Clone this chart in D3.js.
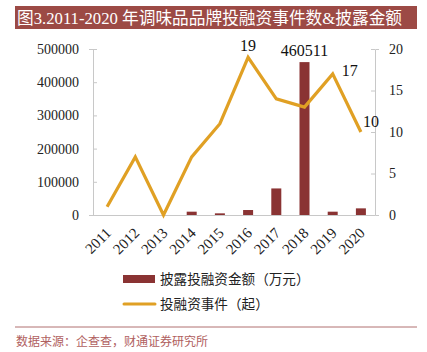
<!DOCTYPE html>
<html>
<meta charset="utf-8">
<head>
<script src="https://d3js.org/d3.v7.min.js"></script>
<style>
  body { margin: 0; background: #fff; }
  text { font-family: "Liberation Serif", "Noto Sans CJK SC", serif; }
</style>
</head>
<body>
<script>
var years = ["2011","2012","2013","2014","2015","2016","2017","2018","2019","2020"];
var amounts = [0, 0, 0, 10000, 5000, 15000, 80000, 460511, 10000, 20000];
var events = [1, 7, 0, 7, 11, 19, 14, 13, 17, 10];
var leftTicks = [0, 100000, 200000, 300000, 400000, 500000];
var rightTicks = [0, 5, 10, 15, 20];

var W = 427, H = 352;
var svg = d3.select("body").append("svg").attr("width", W).attr("height", H);

// title bar
svg.append("rect").attr("x", 15).attr("y", 6).attr("width", 402).attr("height", 23).attr("fill", "#9c4a45");
svg.append("text").attr("x", 17).attr("y", 24).attr("fill", "#fff").style("font-size", "16.7px")
  .text("图3.2011-2020 年调味品品牌投融资事件数&披露金额");

var x0 = 93, x1 = 375, yTop = 49, yBot = 215;
var x = d3.scaleBand().domain(years).range([x0, x1]);
var yL = d3.scaleLinear().domain([0, 500000]).range([yBot, yTop]);
var yR = d3.scaleLinear().domain([0, 20]).range([yBot, yTop]);

// axes
var axisColor = "#c8c8c8";
var gL = svg.append("g").attr("transform", "translate(" + x0 + ",0)")
  .call(d3.axisLeft(yL).tickValues(leftTicks).tickSize(4).tickPadding(10).tickFormat(d3.format("d")));
var gR = svg.append("g").attr("transform", "translate(" + x1 + ",0)")
  .call(d3.axisRight(yR).tickValues(rightTicks).tickSize(4).tickPadding(10));
var gB = svg.append("g").attr("transform", "translate(0," + yBot + ")")
  .call(d3.axisBottom(x).tickSize(0).tickPadding(6));
[gL, gR, gB].forEach(function(g) {
  g.selectAll("path, line").attr("stroke", axisColor);
  g.selectAll("text").attr("fill", "#222").style("font-size", "14px").style("font-family", "Liberation Serif");
});
gL.selectAll(".tick line").attr("x2", 4);
gR.selectAll(".tick line").attr("x2", -4);
gB.selectAll("text").attr("text-anchor", "end").attr("x", 0).attr("y", 0).attr("dy", 0)
  .style("font-size", "15px")
  .attr("transform", "translate(5,19) rotate(-45)");

// bars
var bw = 10;
svg.append("g").selectAll("rect").data(amounts).enter().append("rect")
  .attr("x", function(d, i) { return x(years[i]) + x.bandwidth() / 2 - bw / 2; })
  .attr("y", function(d) { return yL(d); })
  .attr("width", bw)
  .attr("height", function(d) { return yBot - yL(d); })
  .attr("fill", "#8a3333");

// line
var line = d3.line()
  .x(function(d, i) { return x(years[i]) + x.bandwidth() / 2; })
  .y(function(d) { return yR(d); });
svg.append("path").datum(events).attr("d", line)
  .attr("fill", "none").attr("stroke", "#e0a024").attr("stroke-width", 3.2);

// labels
function cx(i) { return x(years[i]) + x.bandwidth() / 2; }
svg.append("text").attr("x", cx(5)).attr("y", yR(events[5]) - 6).attr("text-anchor", "middle")
  .style("font-size", "16px").attr("fill", "#111").text(events[5]);
svg.append("text").attr("x", cx(7)).attr("y", yL(amounts[7]) - 6).attr("text-anchor", "middle")
  .style("font-size", "16px").attr("fill", "#111").text(amounts[7]);
svg.append("text").attr("x", cx(8) + 9).attr("y", yR(events[8]) + 2).attr("text-anchor", "start")
  .style("font-size", "16px").attr("fill", "#111").text(events[8]);
svg.append("text").attr("x", cx(9) + 2).attr("y", yR(events[9]) - 5).attr("text-anchor", "start")
  .style("font-size", "16px").attr("fill", "#111").text(events[9]);

// legend
svg.append("rect").attr("x", 123).attr("y", 275).attr("width", 32).attr("height", 8).attr("fill", "#8a3333");
svg.append("text").attr("x", 160).attr("y", 284).style("font-size", "13.6px").attr("fill", "#222")
  .text("披露投融资金额（万元）");
svg.append("line").attr("x1", 124).attr("x2", 155).attr("y1", 304).attr("y2", 304)
  .attr("stroke", "#e0a024").attr("stroke-width", 3).attr("stroke-linecap", "round");
svg.append("text").attr("x", 160).attr("y", 309).style("font-size", "13.6px").attr("fill", "#222")
  .text("投融资事件（起）");

// source
svg.append("line").attr("x1", 15).attr("x2", 417).attr("y1", 327).attr("y2", 327)
  .attr("stroke", "#b07070").attr("stroke-width", 1);
svg.append("text").attr("x", 16).attr("y", 346).style("font-size", "12px").attr("fill", "#b06060")
  .text("数据来源：企查查，财通证券研究所");
</script>
</body>
</html>
